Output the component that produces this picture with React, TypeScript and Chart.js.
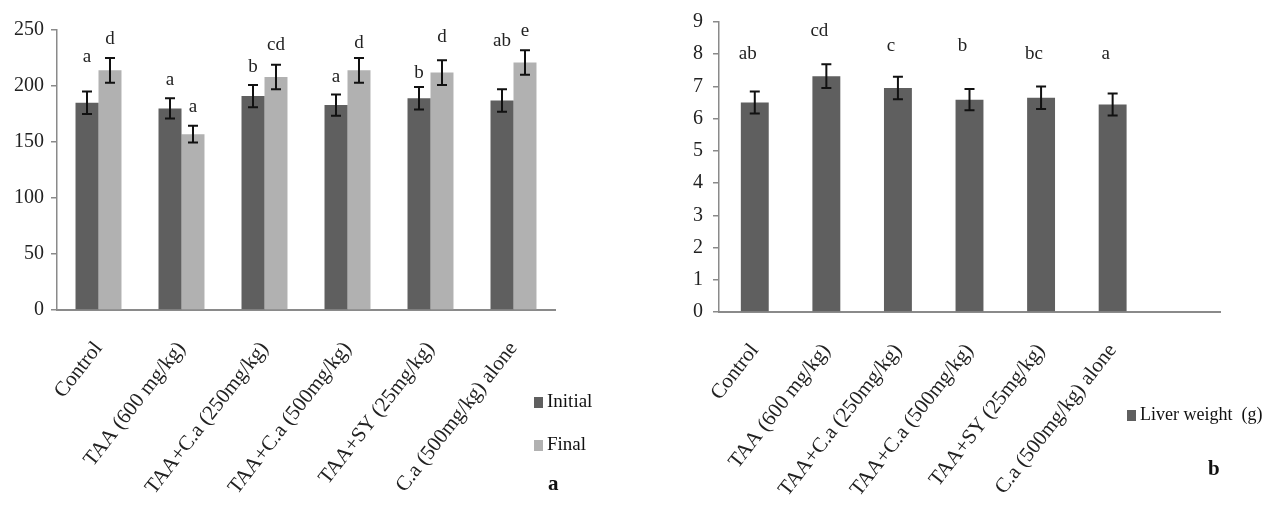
import React, { useEffect, useRef } from 'react';
import { Chart, registerables } from 'chart.js';

Chart.register(...registerables);

// ---------- data ----------
const categories = [
  'Control',
  'TAA (600 mg/kg)',
  'TAA+C.a (250mg/kg)',
  'TAA+C.a (500mg/kg)',
  'TAA+SY (25mg/kg)',
  'C.a (500mg/kg) alone',
];

const initialWeight = [185, 180, 191, 183, 189, 187];
const initialErr = [10, 9, 10, 9.5, 10, 10];
const finalWeight = [214, 157, 208, 214, 212, 221];
const finalErr = [11, 7.5, 11, 11, 11, 11];
const initialLetters = ['a', 'a', 'b', 'a', 'b', 'ab'];
const finalLetters = ['d', 'a', 'cd', 'd', 'd', 'e'];
const initialLetterAt = [226, 205, 217, 208, 212, 240];
const finalLetterAt = [242, 181, 237, 238, 244, 249];
const weightTicks = [0, 50, 100, 150, 200, 250];

const liverWeight = [6.5, 7.32, 6.95, 6.59, 6.65, 6.44];
const liverErr = [0.34, 0.37, 0.35, 0.33, 0.35, 0.34];
const liverLetters = ['ab', 'cd', 'c', 'b', 'bc', 'a'];
const liverLetterAt = [8.0, 8.72, 8.24, 8.24, 8.0, 8.0];
const liverTicks = [0, 1, 2, 3, 4, 5, 6, 7, 8, 9];

const DARK = '#5f5f5f';
const LIGHT = '#b1b1b1';
const AXIS = '#8a8a8a';
const FONT = '"Liberation Serif", "Times New Roman", serif';

// ---------- plugins ----------
function annotatePlugin(errs: number[][], letters: string[][], letterAt: number[][], letterDx: number) {
  return {
    id: 'annot',
    afterDatasetsDraw(chart: any) {
      const ctx = chart.ctx;
      const y = chart.scales.y;
      chart.data.datasets.forEach((ds: any, di: number) => {
        const meta = chart.getDatasetMeta(di);
        meta.data.forEach((bar: any, i: number) => {
          const v = ds.data[i];
          if (v == null) return;
          const e = errs[di][i];
          const x = bar.x;
          const yt = y.getPixelForValue(v + e);
          const yb = y.getPixelForValue(v - e);
          ctx.save();
          ctx.strokeStyle = '#111';
          ctx.lineWidth = 2;
          ctx.beginPath();
          ctx.moveTo(x, yt);
          ctx.lineTo(x, yb);
          ctx.moveTo(x - 5, yt);
          ctx.lineTo(x + 5, yt);
          ctx.moveTo(x - 5, yb);
          ctx.lineTo(x + 5, yb);
          ctx.stroke();
          ctx.fillStyle = '#222';
          ctx.font = `19px ${FONT}`;
          ctx.textAlign = 'center';
          ctx.textBaseline = 'middle';
          ctx.fillText(letters[di][i], x + letterDx, y.getPixelForValue(letterAt[di][i]));
          ctx.restore();
        });
      });
    },
  };
}

function legendPlugin(items: { x: number; y: number }[], tag: { text: string; x: number; y: number }, size: number) {
  return {
    id: 'customLegend',
    afterDraw(chart: any) {
      const ctx = chart.ctx;
      ctx.save();
      chart.data.datasets.forEach((ds: any, di: number) => {
        const p = items[di];
        ctx.fillStyle = ds.backgroundColor;
        ctx.fillRect(p.x, p.y - 5, 9, 11);
        ctx.fillStyle = '#111';
        ctx.font = `${size}px ${FONT}`;
        ctx.textAlign = 'left';
        ctx.textBaseline = 'middle';
        ctx.fillText(ds.label, p.x + 13, p.y);
      });
      ctx.font = `bold 21px ${FONT}`;
      ctx.fillStyle = '#111';
      ctx.textAlign = 'left';
      ctx.textBaseline = 'middle';
      ctx.fillText(tag.text, tag.x, tag.y);
      ctx.restore();
    },
  };
}

function xScale(height: number) {
  return {
    grid: { display: false },
    border: { display: true, color: AXIS, width: 2 },
    ticks: {
      font: { family: FONT, size: 21 },
      color: '#222',
      minRotation: 52,
      maxRotation: 52,
      autoSkip: false,
      padding: 19,
    },
    afterFit: (s: any) => {
      s.height = height;
    },
  };
}

function yScale(min: number, max: number, tickVals: number[], width: number, pad: number) {
  return {
    min,
    max,
    afterBuildTicks: (s: any) => {
      s.ticks = tickVals.map((v) => ({ value: v }));
    },
    grid: { drawOnChartArea: false, drawTicks: true, tickLength: 6, color: AXIS, lineWidth: 1.5 },
    border: { display: true, color: AXIS, width: 1.5 },
    ticks: { font: { family: FONT, size: 20 }, color: '#222', padding: pad },
    afterFit: (s: any) => {
      s.width = width;
    },
  };
}

function WeightChart() {
  const ref = useRef<HTMLCanvasElement>(null);
  useEffect(() => {
    const chart = new Chart(ref.current as HTMLCanvasElement, {
      type: 'bar',
      data: {
        labels: categories,
        datasets: [
          { label: 'Initial', data: initialWeight, backgroundColor: DARK, categoryPercentage: 0.554, barPercentage: 1 },
          { label: 'Final', data: finalWeight, backgroundColor: LIGHT, categoryPercentage: 0.554, barPercentage: 1 },
        ],
      },
      options: {
        responsive: false,
        animation: false,
        devicePixelRatio: 1,
        layout: { padding: { top: 30, right: 85, left: 0, bottom: 0 } },
        plugins: { legend: { display: false }, tooltip: { enabled: false } },
        scales: {
          x: xScale(196) as any,
          y: yScale(0, 250, weightTicks, 57, 7) as any,
        },
      },
      plugins: [
        annotatePlugin([initialErr, finalErr], [initialLetters, finalLetters], [initialLetterAt, finalLetterAt], 0),
        legendPlugin([{ x: 534, y: 402 }, { x: 534, y: 445 }], { text: 'a', x: 548, y: 485 }, 19),
      ],
    });
    return () => chart.destroy();
  }, []);
  return <canvas ref={ref} width={640} height={506} style={{ width: 640, height: 506, display: 'block' }} />;
}

function LiverChart() {
  const ref = useRef<HTMLCanvasElement>(null);
  useEffect(() => {
    const chart = new Chart(ref.current as HTMLCanvasElement, {
      type: 'bar',
      data: {
        labels: [...categories, ''],
        datasets: [
          { label: 'Liver weight  (g)', data: liverWeight, backgroundColor: DARK, categoryPercentage: 0.39, barPercentage: 1 },
        ],
      },
      options: {
        responsive: false,
        animation: false,
        devicePixelRatio: 1,
        layout: { padding: { top: 17, right: 51, left: 0, bottom: 0 } },
        plugins: { legend: { display: false }, tooltip: { enabled: false } },
        scales: {
          x: xScale(194) as any,
          y: yScale(0, 9, liverTicks, 79, 10) as any,
        },
      },
      plugins: [
        annotatePlugin([liverErr], [liverLetters], [liverLetterAt], -7),
        legendPlugin([{ x: 487, y: 415 }], { text: 'b', x: 568, y: 470 }, 18),
      ],
    });
    return () => chart.destroy();
  }, []);
  return <canvas ref={ref} width={631} height={506} style={{ width: 631, height: 506, display: 'block' }} />;
}

export default function App() {
  return (
    <div style={{ position: 'relative', width: 1255, height: 490, background: '#fff' }}>
      <div style={{ position: 'absolute', left: -8, top: -8, width: 640, height: 506, background: '#fff' }}>
        <WeightChart />
      </div>
      <div style={{ position: 'absolute', left: 632, top: -8, width: 631, height: 506, background: '#fff' }}>
        <LiverChart />
      </div>
    </div>
  );
}
